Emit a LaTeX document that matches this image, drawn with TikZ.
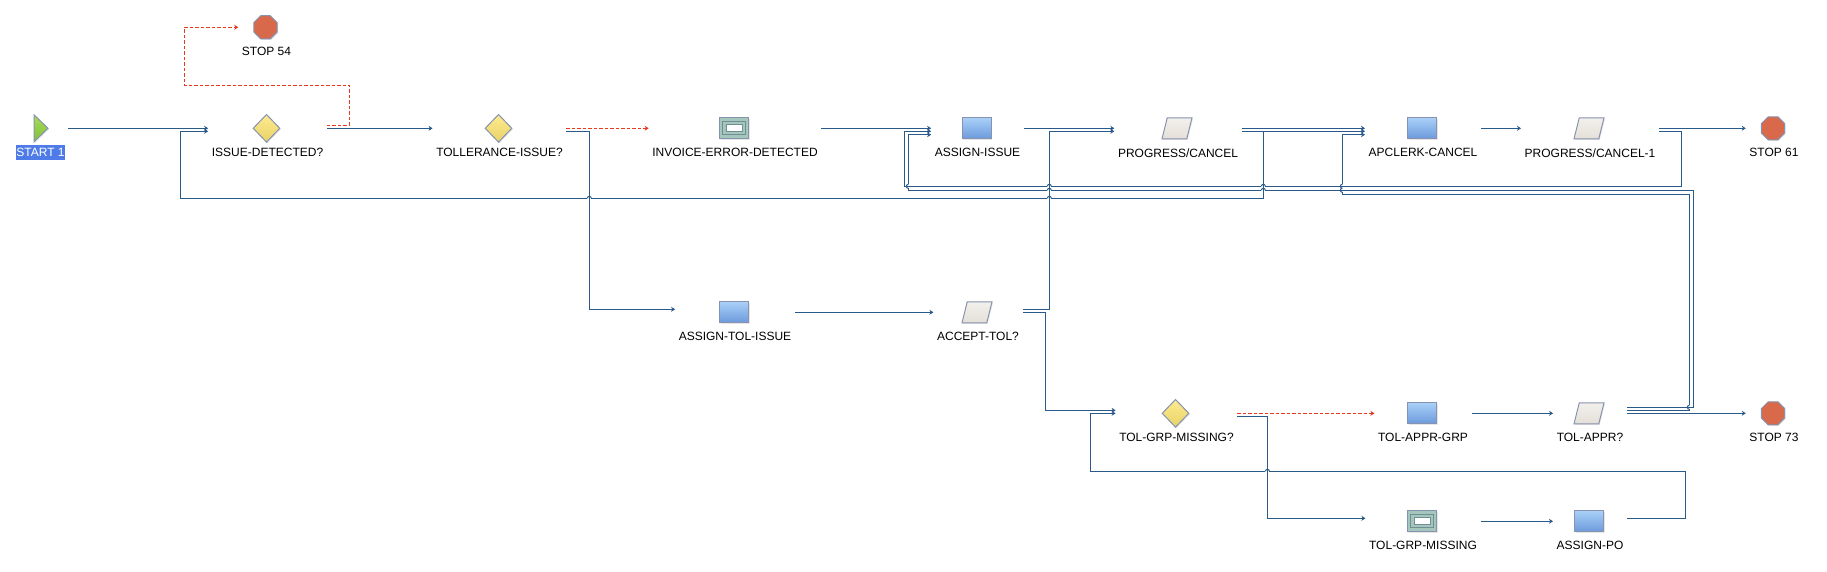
\documentclass[tikz,border=0pt]{standalone}
\usepackage{fontspec}
\setmainfont{Liberation Sans}
\usepackage{xcolor}
\usetikzlibrary{arrows.meta}
\usetikzlibrary{shapes.geometric}
\usetikzlibrary{shadows}
\definecolor{wireblue}{HTML}{2A5A8A}
\definecolor{wirered}{HTML}{E8391F}
\definecolor{edgegrey}{HTML}{8792AE}
\definecolor{startblue}{HTML}{4F7BE8}
\definecolor{tasktop}{HTML}{A8D0F8}
\definecolor{taskbot}{HTML}{6C99DC}
\definecolor{paperbot}{HTML}{E4E0D8}
\definecolor{papertop}{HTML}{F2F0EC}
\definecolor{queuefill}{HTML}{A5C6BC}
\definecolor{queueline}{HTML}{6F8F94}
\definecolor{decitop}{HTML}{FDEB8E}
\definecolor{decibot}{HTML}{E8D268}
\definecolor{stopfill}{HTML}{D8694A}
\definecolor{starttop}{HTML}{A8DC58}
\definecolor{startbot}{HTML}{80C03C}
\tikzset{
    iconbase/.style={draw=edgegrey, line width=1pt, inner sep=0pt, drop shadow={shadow xshift=1pt, shadow yshift=-1pt, opacity=0.2}},
    taskbox/.style={iconbase, rectangle, minimum width=29pt, minimum height=21pt, top color=tasktop, bottom color=taskbot},
    queuebox/.style={iconbase, rectangle, minimum width=29pt, minimum height=21pt, fill=queuefill,
        path picture={\draw[draw=queueline, line width=0.7pt] ([xshift=-11.5pt,yshift=-6.5pt]path picture bounding box.center) rectangle ([xshift=11.5pt,yshift=6.5pt]path picture bounding box.center);
            \draw[draw=queueline, fill=white, line width=0.7pt] ([xshift=-8pt,yshift=-3.5pt]path picture bounding box.center) rectangle ([xshift=8pt,yshift=3.5pt]path picture bounding box.center);}},
    paperbox/.style={iconbase, inner sep=1pt, trapezium, trapezium left angle=75, trapezium right angle=105, trapezium stretches, minimum width=30pt, minimum height=21pt, top color=papertop, bottom color=paperbot},
    decisionnode/.style={iconbase, diamond, minimum width=27pt, minimum height=28pt, top color=decitop, bottom color=decibot},
    stopnode/.style={iconbase, regular polygon, regular polygon sides=8, minimum size=25pt, fill=stopfill},
    startnode/.style={iconbase, inner sep=1pt, isosceles triangle, isosceles triangle stretches, minimum height=14pt, minimum width=27pt, top color=starttop, bottom color=startbot},
    steptext/.style={font=\fontsize{12}{14}\selectfont, inner ysep=0pt, inner xsep=3.5pt},
    wire/.style={draw=wireblue, line width=1pt},
    flow/.style={wire, -{Stealth[length=4pt,width=5pt]}},
    flowred/.style={draw=wirered, line width=1pt, dash pattern=on 3.5pt off 2pt, -{Stealth[length=4pt,width=5pt]}},
}
% icon, caption and the two ports on the row of the icon
\newcommand{\stepnode}[5]{
    \node[#2] (#1) at (#3,#4) {};
    \node[steptext] (#1t) at (#3+1,#4+24.5) {#5};
    \coordinate (#1in) at (#1t.west |- #1);
    \coordinate (#1out) at (#1t.east |- #1);
}
\begin{document}
\begin{tikzpicture}[x=1pt, y=-1pt]
    \useasboundingbox (0,0) rectangle (1827,572);

    \stepnode{start}{startnode}{39.5}{128.3}{\setlength{\fboxsep}{0pt}\colorbox{startblue}{\rule[-3.5pt]{0pt}{15pt}\textcolor{white}{START 1}}}
    \stepnode{stopa}{stopnode}{265.5}{27.3}{STOP 54}
    \stepnode{issue}{decisionnode}{266.5}{128.3}{ISSUE-DETECTED?}
    \stepnode{toll}{decisionnode}{498.5}{128.3}{TOLLERANCE-ISSUE?}
    \stepnode{invoice}{queuebox}{734}{128.3}{INVOICE-ERROR-DETECTED}
    \stepnode{assign}{taskbox}{976.5}{128.3}{ASSIGN-ISSUE}
    \stepnode{progress}{paperbox}{1177}{128.3}{PROGRESS/CANCEL}
    \stepnode{apclerk}{taskbox}{1422}{128.3}{APCLERK-CANCEL}
    \stepnode{progressb}{paperbox}{1589}{128.3}{PROGRESS/CANCEL-1}
    \stepnode{stopb}{stopnode}{1773}{128.3}{STOP 61}
    \stepnode{assigntol}{taskbox}{734}{312.3}{ASSIGN-TOL-ISSUE}
    \stepnode{accept}{paperbox}{977}{312.3}{ACCEPT-TOL?}
    \stepnode{grpcheck}{decisionnode}{1175.5}{413.3}{TOL-GRP-MISSING?}
    \stepnode{apprgrp}{taskbox}{1422}{413.3}{TOL-APPR-GRP}
    \stepnode{appr}{paperbox}{1589}{413.3}{TOL-APPR?}
    \stepnode{stopc}{stopnode}{1773}{413.3}{STOP 73}
    \stepnode{grpmiss}{queuebox}{1422}{521.3}{TOL-GRP-MISSING}
    \stepnode{assignpo}{taskbox}{1589}{521.3}{ASSIGN-PO}

    % straight flows
    \draw[flow] (startout) -- (issuein);
    \draw[flow] (issueout) -- (tollin);
    \draw[flow] (invoiceout) -- (assignin);
    \draw[flow] (assignout) -- (progressin);
    \draw[flow] (progressout) -- (apclerkin);
    \draw[flow] ([yshift=-3pt]progressout) -- ([yshift=-3pt]apclerkin);
    \draw[flow] (apclerkout) -- (progressbin);
    \draw[flow] (progressbout) -- (stopbin);
    \draw[flow] (assigntolout) -- (acceptin);
    \draw[flow] (apprgrpout) -- (apprin);
    \draw[flow] (approut) -- (stopcin);
    \draw[flow] (grpmissout) -- (assignpoin);
    \draw[flowred] (tollout) -- (invoicein);
    \draw[flowred] (grpcheckout) -- (apprgrpin);

    % routed flows
    \draw[flowred] ([yshift=3pt]issueout) -| (349.5,85.3) -| (184.3,27.3) -- (stopain);
    \draw[flow] ([yshift=-3pt]progressout) -| (1263.3,198.3) -| (180.7,131.3) -- ([yshift=-3pt]issuein);
    \draw[flow] ([yshift=-3pt]tollout) -| (589.3,309.3) -- ([yshift=3pt]assigntolin);
    \draw[flow] ([yshift=-3pt]progressbout) -| (1681.5,186.3) -| (904.3,131.3) -- ([yshift=-3pt]assignin);
    \draw[flow] ([yshift=6pt]approut) -| (1693,190.3) -| (908.3,134.7) -- ([yshift=-6.4pt]assignin);
    \draw[flow] ([yshift=3pt]acceptout) -| (1049.3,131.3) -- ([yshift=-3pt]progressin);
    \draw[flow] (acceptout) -| (1045.4,410.3) -- ([yshift=3pt]grpcheckin);
    \draw[flow] ([yshift=3pt]approut) -| (1689.3,194.3) -| (1342.3,134.7) -- ([yshift=-6.4pt]apclerkin);
    \draw[flow] ([yshift=3pt]assignpoout) -| (1685.6,471.3) -| (1090.7,413.3) -- (grpcheckin);
    \draw[flow] ([yshift=-3pt]grpcheckout) -| (1267.4,518.3) -- ([yshift=3pt]grpmissin);

    % line hops
    \foreach \x/\y in {589.3/198.3, 1049.3/186.3, 1049.3/190.3, 1049.3/198.3, 1263.3/186.3, 1263.3/190.3, 1267.4/471.3}{
        \draw[white, line width=1.4pt] (\x-2,\y) -- (\x+2,\y);
        \draw[wire] (\x,\y-2) -- (\x,\y+2);
        \draw[wire] (\x-2,\y) arc[start angle=180, end angle=360, radius=2];
    }
    \foreach \x/\y in {908.3/186.3, 1342.3/186.3, 1342.3/190.3, 1689.3/407.3}{
        \draw[white, line width=1.4pt] (\x,\y-2) -- (\x,\y+2);
        \draw[wire] (\x-2,\y) -- (\x+2,\y);
        \draw[wire] (\x,\y-2) arc[start angle=270, end angle=90, radius=2];
    }
\end{tikzpicture}
\end{document}
